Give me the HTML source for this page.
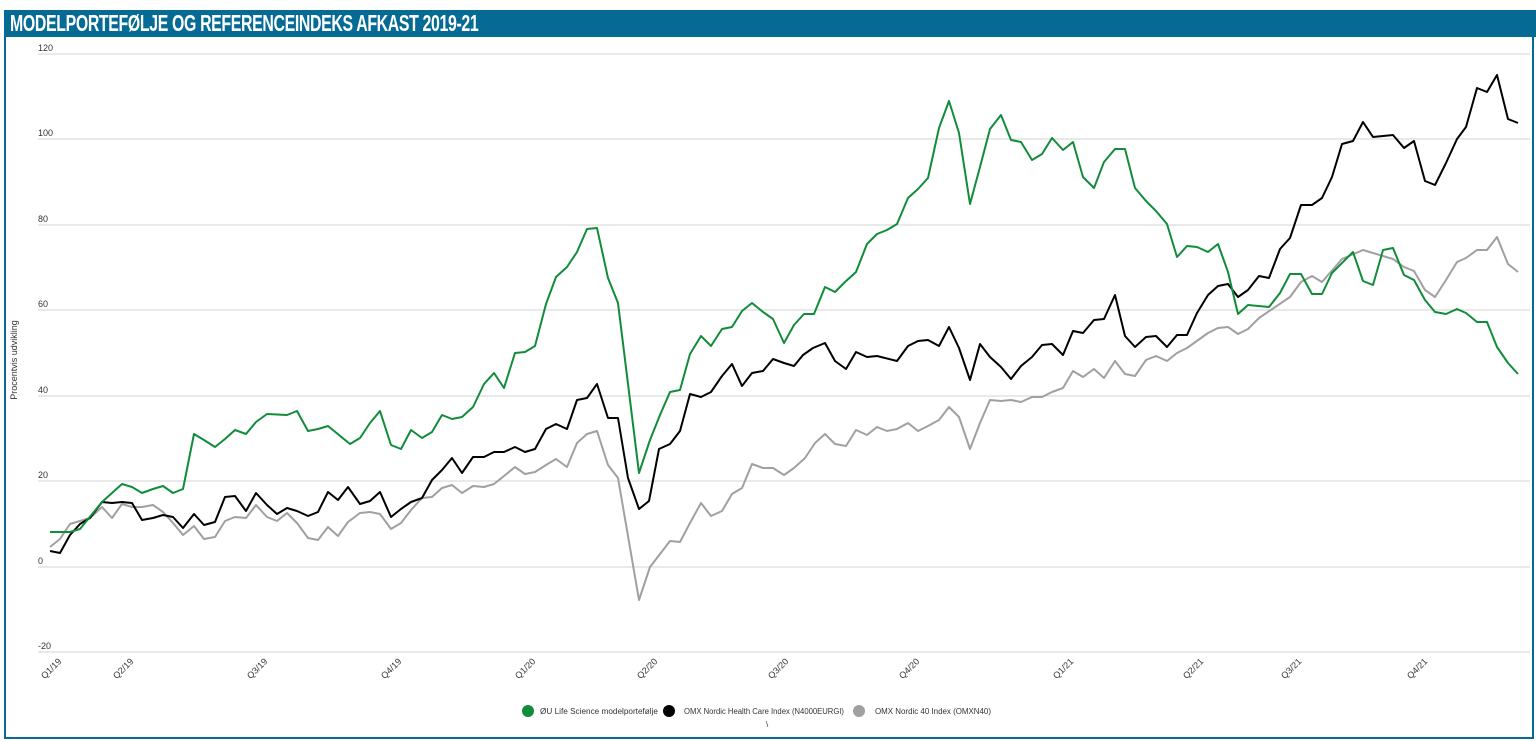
<!DOCTYPE html>
<html><head><meta charset="utf-8"><style>
html,body{margin:0;padding:0;background:#fff;}
body{width:1536px;height:741px;overflow:hidden;position:relative;font-family:"Liberation Sans",sans-serif;}
.frame{position:absolute;left:4px;top:10px;width:1526px;height:725px;border:2px solid #056b94;}
.title{position:absolute;left:4px;top:10px;width:1530px;height:27px;background:#056b94;color:#fff;font-family:"Liberation Sans",sans-serif;font-weight:bold;font-size:23px;line-height:27px;padding-left:6px;letter-spacing:-0.5px;}
.title span{display:inline-block;transform:scaleX(0.69);transform-origin:left;}
svg{position:absolute;left:0;top:0;}
</style></head><body>
<div class="frame"></div>
<div class="title"><span>MODELPORTEFØLJE OG REFERENCEINDEKS AFKAST 2019-21</span></div>
<svg width="1536" height="741" viewBox="0 0 1536 741">
<g stroke="#dcdcdc" stroke-width="1.2">
<line x1="38" y1="54" x2="1530" y2="54"/><line x1="38" y1="139" x2="1530" y2="139"/><line x1="38" y1="225" x2="1530" y2="225"/><line x1="38" y1="310" x2="1530" y2="310"/><line x1="38" y1="396" x2="1530" y2="396"/><line x1="38" y1="481" x2="1530" y2="481"/><line x1="38" y1="567" x2="1530" y2="567"/><line x1="38" y1="652" x2="1530" y2="652"/>
</g>
<g font-size="9" fill="#333">
<text x="38" y="51">120</text><text x="38" y="136">100</text><text x="38" y="222">80</text><text x="38" y="307">60</text><text x="38" y="393">40</text><text x="38" y="478">20</text><text x="38" y="564">0</text><text x="38" y="649">-20</text>
</g>
<text transform="translate(17,360) rotate(-90)" font-size="9" fill="#333" text-anchor="middle">Procentvis udvikling</text>
<g font-size="9" fill="#333" text-anchor="end">
<text transform="translate(62,662) rotate(-45)">Q1/19</text>
<text transform="translate(134,662) rotate(-45)">Q2/19</text>
<text transform="translate(268,662) rotate(-45)">Q3/19</text>
<text transform="translate(402,662) rotate(-45)">Q4/19</text>
<text transform="translate(536,662) rotate(-45)">Q1/20</text>
<text transform="translate(658,662) rotate(-45)">Q2/20</text>
<text transform="translate(789,662) rotate(-45)">Q3/20</text>
<text transform="translate(920,662) rotate(-45)">Q4/20</text>
<text transform="translate(1074,662) rotate(-45)">Q1/21</text>
<text transform="translate(1204,662) rotate(-45)">Q2/21</text>
<text transform="translate(1302,662) rotate(-45)">Q3/21</text>
<text transform="translate(1428,662) rotate(-45)">Q4/21</text>
</g>
<g fill="none" stroke-width="2" stroke-linejoin="round">
<polyline stroke="#a0a0a0" points="50,547 60,539 70,524 80,521 90,518 102,507 112,518 122,504 132,507 142,507 153,505 163,512 173,523 183,535 194,526 204,539 215,537 225,521 235,517 246,518 256,505 267,517 277,521 287,513 297,523 308,538 318,540 328,527 338,536 348,522 360,513 370,512 380,514 391,529 401,523 411,510 422,498 432,497 442,488 452,485 462,493 473,486 484,487 494,484 504,476 515,467 525,474 535,472 546,465 556,459 567,467 577,443 587,434 597,431 608,465 618,478 639,600 650,567 660,554 670,541 680,542 690,523 701,503 711,516 722,511 732,494 742,488 752,464 763,468 773,468 784,475 794,468 805,458 815,443 825,434 835,444 846,446 856,430 867,435 877,427 887,431 897,429 908,423 918,431 928,426 939,420 949,407 959,417 970,449 980,423 990,400 1001,401 1011,400 1021,402 1032,397 1042,397 1052,392 1063,388 1073,371 1083,377 1094,369 1104,378 1115,361 1125,374 1135,376 1146,360 1156,356 1167,361 1177,353 1187,348 1208,333 1218,328 1228,327 1238,334 1248,329 1259,318 1290,297 1301,282 1312,276 1322,282 1342,259 1363,250 1393,259 1404,267 1414,271 1425,290 1435,297 1446,280 1457,262 1466,258 1477,250 1487,250 1497,237 1508,264 1518,272"/>
<polyline stroke="#000" points="50,551 60,553 70,535 80,524 90,518 102,502 112,503 122,502 132,503 142,520 153,518 163,515 173,517 183,528 194,514 204,525 215,522 225,497 235,496 246,511 256,493 267,505 277,514 287,508 297,511 308,516 318,512 328,492 338,500 348,487 360,504 370,501 380,492 391,517 401,509 411,502 422,498 432,480 442,470 452,458 462,473 473,457 484,457 494,452 504,452 515,447 525,452 535,449 546,429 556,424 567,429 577,400 587,398 597,384 608,418 618,418 628,478 639,509 649,501 659,449 670,444 680,431 690,394 701,397 711,392 722,376 732,364 742,386 752,373 763,371 773,359 784,363 794,366 803,355 813,348 825,343 835,361 846,369 856,352 867,357 877,356 897,361 908,346 918,341 928,340 939,346 949,327 959,348 970,380 980,344 990,357 1001,367 1011,379 1021,366 1032,357 1042,345 1052,344 1063,355 1073,331 1083,333 1094,320 1104,319 1115,295 1125,336 1135,347 1146,337 1156,336 1167,347 1177,335 1187,335 1197,313 1208,295 1218,286 1228,284 1238,297 1248,290 1259,276 1269,278 1280,249 1290,238 1301,205 1312,205 1322,198 1332,177 1342,144 1353,141 1363,122 1373,137 1393,135 1404,148 1414,141 1425,181 1435,185 1446,163 1457,139 1466,127 1477,88 1487,92 1497,75 1508,119 1518,123"/>
<polyline stroke="#118c3b" points="50,532 70,532 80,529 102,502 122,484 132,487 142,493 153,489 163,486 173,493 183,489 194,434 204,440 215,447 225,439 235,430 246,434 256,422 267,414 287,415 297,411 308,431 318,429 328,426 350,444 360,438 370,423 380,411 391,445 401,449 411,430 422,438 432,432 442,415 452,419 462,417 473,407 484,384 494,373 504,388 515,353 525,352 535,346 546,304 556,277 567,267 577,252 587,229 597,228 608,278 618,303 639,473 650,440 660,415 670,392 680,390 690,354 701,336 711,346 722,329 732,327 742,311 752,303 763,312 773,319 784,343 794,325 804,314 814,314 825,287 835,292 845,282 856,272 867,244 877,234 887,230 897,224 908,198 918,189 928,178 939,128 949,101 959,133 970,204 980,167 990,129 1001,115 1011,140 1021,142 1032,160 1042,154 1052,138 1063,150 1073,142 1083,177 1094,188 1104,162 1115,149 1125,149 1135,188 1146,201 1156,211 1167,224 1177,257 1187,246 1197,247 1208,252 1218,244 1228,272 1238,314 1248,305 1269,307 1280,293 1290,274 1301,274 1312,294 1322,294 1332,273 1353,252 1363,281 1373,285 1383,250 1393,248 1404,275 1414,280 1425,300 1435,312 1446,314 1457,309 1466,313 1477,322 1487,322 1497,347 1508,363 1518,374"/>
</g>
<g font-size="8" fill="#333">
<circle cx="528" cy="711" r="6" fill="#118c3b"/><text x="540" y="714" textLength="118" lengthAdjust="spacingAndGlyphs">ØU Life Science modelportefølje</text>
<circle cx="669" cy="711" r="6" fill="#000"/><text x="684" y="714" textLength="160" lengthAdjust="spacingAndGlyphs">OMX Nordic Health Care Index (N4000EURGI)</text>
<circle cx="859" cy="711" r="6" fill="#a0a0a0"/><text x="875" y="714" textLength="116" lengthAdjust="spacingAndGlyphs">OMX Nordic 40 Index (OMXN40)</text>
<text x="766" y="727">\</text>
</g>
</svg>
</body></html>
